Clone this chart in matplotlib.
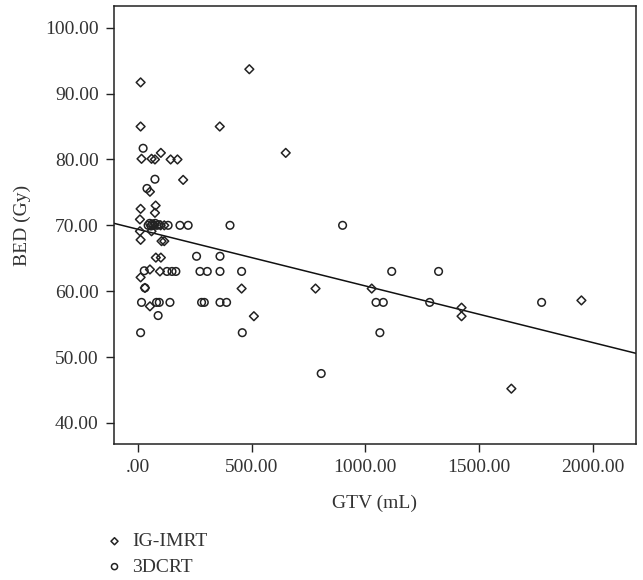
import matplotlib
matplotlib.use("Agg")
import matplotlib.pyplot as plt
import numpy as np
from matplotlib.ticker import FixedLocator, FuncFormatter

plt.rcParams['font.family'] = ['Liberation Serif', 'DejaVu Serif']

# IG-IMRT (diamonds): GTV (mL), BED (Gy)
imrt_gtv = [12, 12, 360, 490, 650, 16, 60, 75, 101, 144, 174, 199, 53, 78, 12,
            75, 9, 100, 116, 9, 60, 12, 104, 116, 79, 101, 53, 97, 12, 31, 53,
            456, 510, 781, 1028, 1423, 1423, 1950, 1642]
imrt_bed = [91.7, 85.0, 85.0, 93.7, 81.0, 80.1, 80.1, 80.0, 81.0, 80.0, 80.0, 76.9,
            75.1, 73.0, 72.5, 71.9, 70.9, 70.0, 70.0, 69.1, 69.1, 67.8, 67.6, 67.6,
            65.1, 65.1, 63.3, 63.0, 62.1, 60.5, 57.7, 60.4, 56.2, 60.4, 60.4, 57.5,
            56.2, 58.6, 45.2]

# 3DCRT (circles)
crt_gtv = [23, 75, 40, 45, 52, 58, 64, 70, 76, 84, 92, 133, 185, 221, 405, 900,
           258, 361, 28, 128, 150, 167, 273, 305, 361, 456, 31, 16, 82, 94, 141,
           280, 292, 361, 390, 89, 12, 459, 1064, 806, 1047, 1079, 1116, 1322,
           1283, 1775]
crt_bed = [81.7, 77.0, 75.6, 70.0, 70.3, 69.9, 70.2, 70.0, 70.3, 70.0, 70.1, 70.0,
           70.0, 70.0, 70.0, 70.0, 65.3, 65.3, 63.1, 63.0, 63.0, 63.0, 63.0, 63.0,
           63.0, 63.0, 60.5, 58.3, 58.3, 58.3, 58.3, 58.3, 58.3, 58.3, 58.3, 56.3,
           53.7, 53.7, 53.7, 47.5, 58.3, 58.3, 63.0, 63.0, 58.3, 58.3]

# Fit line
fit_intercept = 69.4
fit_slope = -0.0086

x_ticks = [0, 500, 1000, 1500, 2000]
y_ticks = [40, 50, 60, 70, 80, 90, 100]
x_lim = (-105, 2190)
y_lim = (36.8, 103.3)

fig = plt.figure(figsize=(6.43, 5.8), dpi=100)
ax = fig.add_axes([114/643, 1-444/580, (636-114)/643, (444-6)/580])

ax.scatter(imrt_gtv, imrt_bed, marker='D', s=20, facecolors='none',
           edgecolors='#222222', linewidths=1.1, label='IG-IMRT', zorder=3)
ax.scatter(crt_gtv, crt_bed, marker='o', s=30, facecolors='none',
           edgecolors='#222222', linewidths=1.1, label='3DCRT', zorder=3)

xs = np.array(x_lim)
ax.plot(xs, fit_intercept + fit_slope * xs, color='#111111', lw=1.1, zorder=2)

ax.set_xlim(*x_lim)
ax.set_ylim(*y_lim)
ax.xaxis.set_major_locator(FixedLocator(x_ticks))
ax.yaxis.set_major_locator(FixedLocator(y_ticks))

def fmt(v, pos):
    s = f"{v:.2f}"
    if s.startswith("0"):
        s = s[1:]
    return s

ax.xaxis.set_major_formatter(FuncFormatter(fmt))
ax.yaxis.set_major_formatter(FuncFormatter(fmt))
ax.tick_params(direction='out', length=6, width=1, labelsize=14, colors='#222222',
               labelcolor='#333333', pad=5)
for sp in ax.spines.values():
    sp.set_linewidth(1.1)
    sp.set_color('#222222')

ax.set_xlabel('GTV (mL)', fontsize=14, color='#333333', labelpad=13)
ax.set_ylabel('BED (Gy)', fontsize=14, color='#333333', labelpad=10)

fig.legend(loc='upper left', bbox_to_anchor=(97/643, 1-523/580), frameon=False,
           fontsize=14, handlelength=0.8, handletextpad=0.5, labelspacing=0.4,
           borderpad=0, markerscale=0.8, labelcolor='#333333')

fig.savefig('out.png', dpi=100)
